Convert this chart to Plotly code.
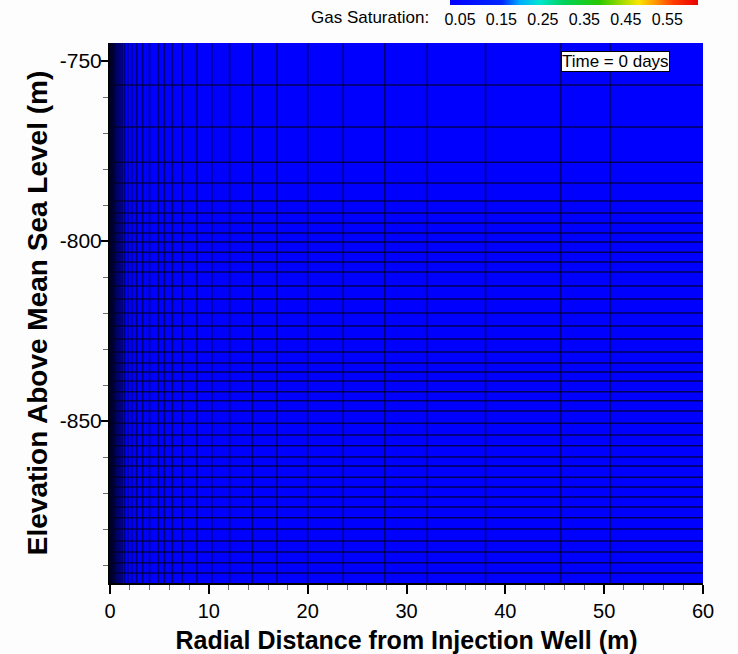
import numpy as np
import plotly.graph_objects as go

# Radial cell boundaries of the mesh (m from the injection well)
r_edges = [0.0, 0.02, 0.04, 0.06, 0.08, 0.1, 0.12, 0.14, 0.17, 0.2, 0.24, 0.29,
           0.34, 0.4, 0.47, 0.55, 0.65, 0.77, 0.9, 1.05, 1.23, 1.48, 1.8, 2.2,
           2.7, 3.3, 4.0, 4.9, 5.5, 6.3, 7.3, 8.8, 10.3, 12.1, 14.4, 16.9,
           20.0, 23.6, 27.8, 32.1, 38.0, 45.6, 50.6, 60.0]

# Vertical cell boundaries of the mesh (elevation, m)
z_edges = [-745.0, -756.7, -768.3, -778.1, -783.9, -788.9, -792.2, -795.0,
           -797.8, -800.3, -803.1, -805.8, -808.6, -812.5, -816.1, -820.0,
           -823.6, -827.2, -830.8, -833.9, -836.4, -838.9, -841.9, -844.4,
           -847.2, -850.6, -853.9, -856.9, -860.0, -862.5, -865.6, -868.3,
           -871.1, -873.9, -876.9, -880.0, -883.3, -886.4, -889.4, -892.2,
           -895.0]

# Gas saturation in every cell at time = 0 days (no gas injected yet)
gas_saturation = np.zeros((len(z_edges) - 1, len(r_edges) - 1))

legend_ticks = [0.05, 0.15, 0.25, 0.35, 0.45, 0.55]
legend_labels = ["0.05", "0.15", "0.25", "0.35", "0.45", "0.55"]

x_ticks = [0, 10, 20, 30, 40, 50, 60]
y_ticks = [-750, -800, -850]
y_labels = ["-750", "-800", "-850"]

FONT = "Liberation Sans, Arial, sans-serif"

flood_scale = [
    [0.0, "rgb(0,0,255)"],
    [0.21, "rgb(0,40,255)"],
    [0.28, "rgb(0,170,255)"],
    [0.36, "rgb(0,230,210)"],
    [0.46, "rgb(0,210,90)"],
    [0.60, "rgb(40,200,0)"],
    [0.70, "rgb(170,220,0)"],
    [0.76, "rgb(250,230,0)"],
    [0.82, "rgb(255,160,0)"],
    [0.90, "rgb(255,60,0)"],
    [1.0, "rgb(235,0,0)"],
]

fig = go.Figure()

fig.add_trace(go.Heatmap(
    x=r_edges, y=z_edges, z=gas_saturation,
    coloraxis="coloraxis", hoverinfo="skip",
))

# Mesh lines
gx, gy = [], []
for r in r_edges[1:-1]:
    gx += [r, r, None]
    gy += [z_edges[0], z_edges[-1], None]
fig.add_trace(go.Scatter(x=gx, y=gy, mode="lines", hoverinfo="skip",
                         line=dict(color="rgba(0,0,40,0.62)", width=1.6),
                         showlegend=False))
hx, hy = [], []
for z in z_edges[1:-1]:
    hx += [r_edges[0], r_edges[-1], None]
    hy += [z, z, None]
fig.add_trace(go.Scatter(x=hx, y=hy, mode="lines", hoverinfo="skip",
                         line=dict(color="rgba(0,0,30,0.72)", width=1.5),
                         showlegend=False))

fig.update_layout(
    width=738, height=654,
    margin=dict(l=110, r=35, t=43, b=71),
    paper_bgcolor="rgb(253,253,254)",
    plot_bgcolor="rgb(0,0,255)",
    font=dict(family=FONT, color="black"),
    showlegend=False,
    coloraxis=dict(
        colorscale=flood_scale, cmin=0.026, cmax=0.624,
        colorbar=dict(
            orientation="h",
            xref="paper", x=(450 - 110) / 593, xanchor="left",
            yref="container", y=1.0, yanchor="top",
            len=248, lenmode="pixels", thickness=5,
            xpad=0, ypad=0, outlinewidth=0,
            tickmode="array", tickvals=legend_ticks, ticktext=legend_labels,
            ticks="outside", ticklen=1, tickcolor="rgba(0,0,0,0)",
            tickfont=dict(family=FONT, size=16, color="black"),
        ),
    ),
    xaxis=dict(
        range=[0, 60], tickmode="array", tickvals=x_ticks,
        automargin=False,
        showgrid=False, zeroline=False,
        showline=True, linecolor="black", linewidth=2,
        ticks="outside", ticklen=9, tickwidth=2, tickcolor="black",
        tickfont=dict(size=20),
        minor=dict(dtick=2, tick0=0, ticks="outside", ticklen=5,
                   tickwidth=1, tickcolor="rgb(110,110,110)"),
        title=dict(text="Radial Distance from Injection Well (m)",
                   font=dict(size=25, weight="bold"), standoff=10),
    ),
    yaxis=dict(
        range=[-895, -745], tickmode="array", tickvals=y_ticks,
        ticktext=y_labels, automargin=False,
        showgrid=False, zeroline=False,
        showline=True, linecolor="black", linewidth=2,
        ticks="outside", ticklen=7, tickwidth=2, tickcolor="black",
        ticklabelstandoff=-5,
        tickfont=dict(size=21),
        minor=dict(dtick=10, tick0=-750, ticks="outside", ticklen=5,
                   tickwidth=1, tickcolor="rgb(110,110,110)"),
        title=dict(text="Elevation Above Mean Sea Level (m)",
                   font=dict(size=28, weight="bold"), standoff=4),
    ),
    annotations=[
        dict(text="Gas Saturation:", xref="paper", yref="paper",
             x=(431 - 110) / 593, y=(583 - 17) / 540,
             xanchor="right", yanchor="middle", showarrow=False,
             font=dict(size=17)),
        dict(text="Time = 0 days", xref="paper", yref="paper",
             x=(670 - 110) / 593, y=(583 - 51) / 540,
             xanchor="right", yanchor="top", showarrow=False,
             font=dict(size=17), bgcolor="white",
             bordercolor="black", borderwidth=1, borderpad=0),
    ],
)

fig.write_html("out.html")
